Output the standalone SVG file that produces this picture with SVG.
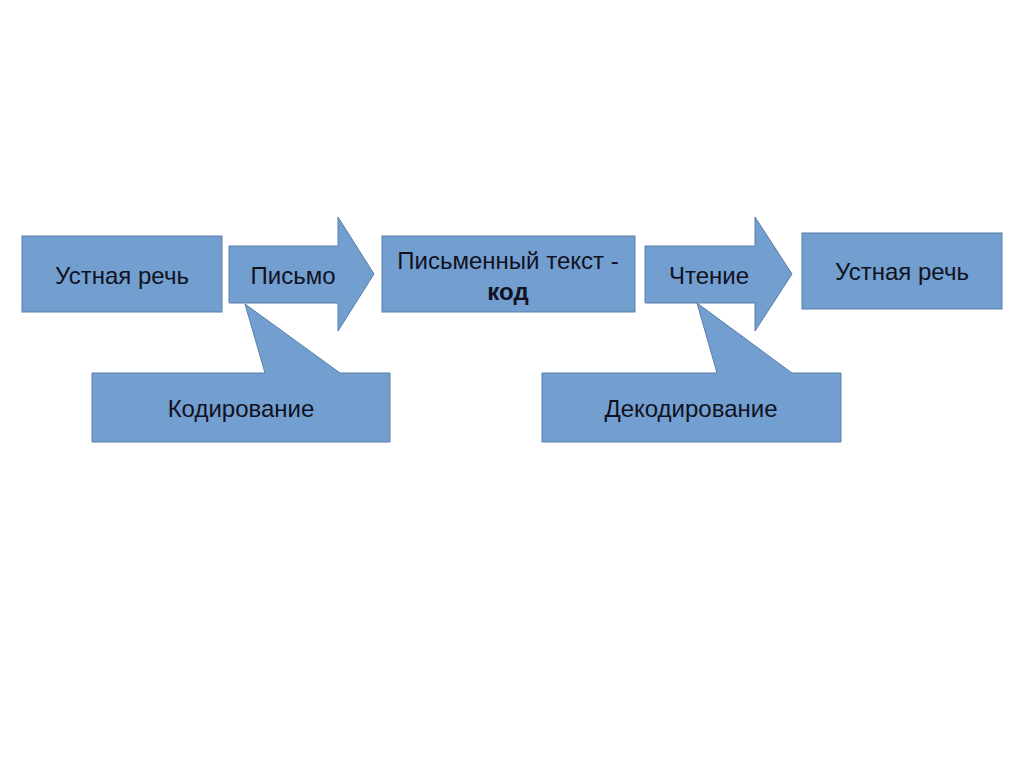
<svg xmlns="http://www.w3.org/2000/svg" width="1024" height="768" viewBox="0 0 1024 768">
<style>
.s{fill:#729fcf;stroke:#5a7ea8;stroke-width:1}
.t{font-family:"Liberation Sans",Arial,sans-serif;font-size:24px;fill:#111122;text-anchor:middle}
</style>
<rect width="1024" height="768" fill="#fff"/>
<g id="connectors">
<g id="arrow-pismo">
<path class="s" d="M229,246 L338,246 L338,217 L374,274 L338,331 L338,303 L229,303 Z"/>
<text class="t" x="293" y="284">Письмо</text>
</g>
<g id="arrow-chtenie">
<path class="s" d="M645,246 L755,246 L755,217 L792,274 L755,331 L755,303 L645,303 Z"/>
<text class="t" x="709" y="284">Чтение</text>
</g>
</g>
<g id="node-ustnaya1">
<rect class="s" x="22" y="236" width="200" height="76"/>
<text class="t" x="122" y="284">Устная речь</text>
</g>
<g id="node-pismennyi">
<rect class="s" x="382" y="236" width="253" height="76"/>
<text class="t" x="508" y="269">Письменный текст -</text>
<text class="t" x="508" y="300" font-weight="bold">код</text>
</g>
<g id="node-ustnaya2">
<rect class="s" x="802" y="233" width="200" height="76"/>
<text class="t" x="902" y="280">Устная речь</text>
</g>
<g id="node-kodirovanie">
<path class="s" d="M92,373 L265,373 L245,304 L340,373 L390,373 L390,442 L92,442 Z"/>
<text class="t" x="241" y="417">Кодирование</text>
</g>
<g id="node-dekodirovanie">
<path class="s" d="M542,373 L717,373 L697,303 L792,373 L841,373 L841,442 L542,442 Z"/>
<text class="t" x="691" y="417">Декодирование</text>
</g>
</svg>
